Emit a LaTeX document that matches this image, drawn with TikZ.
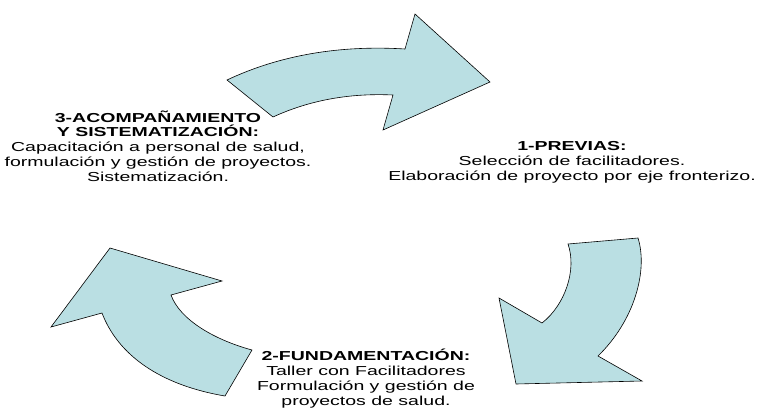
\documentclass[tikz,border=0pt]{standalone}
\usepackage{fontspec}
\setmainfont{Liberation Sans}[FakeStretch=1.5]
\usepackage{tikz}
\usetikzlibrary{positioning}

\definecolor{cyclefill}{RGB}{186,223,227}

\begin{document}
\begin{tikzpicture}[x=1pt, y=-1pt,
    cyclearrow/.style={draw=black, fill=cyclefill, line width=0.6pt, line join=miter},
    every node/.style={align=center, anchor=base, inner sep=0pt,
        font=\fontsize{13}{14.7}\selectfont}]
        \useasboundingbox (0,0) rectangle (759,414);

        % arrow 3 -> 1
        \draw[cyclearrow] (273,117) -- (227,80)
            .. controls (280,55) and (340,45) .. (405,49)
            -- (415,14) -- (490,82) -- (383,130) -- (393,95)
            .. controls (350,93) and (310,100) .. (273,117) -- cycle;

        % arrow 1 -> 2
        \draw[cyclearrow] (568,244) -- (638,238)
            .. controls (648,270) and (635,320) .. (598,356)
            -- (642,381) -- (516,384) -- (499,298) -- (542,323)
            .. controls (565,305) and (577,270) .. (568,244) -- cycle;

        % arrow 2 -> 3
        \draw[cyclearrow] (225,396) -- (252,350)
            .. controls (215,340) and (180,320) .. (171,295)
            -- (222,281) -- (110,248) -- (51,327) -- (102,313)
            .. controls (118,355) and (160,385) .. (225,396) -- cycle;

        % stages (base = last line)
        \node (previas) at (572,180)
            {\textbf{1-PREVIAS:}\\Selección de facilitadores.\\Elaboración de proyecto por eje fronterizo.};
        \node (fundamentacion) at (366,405)
            {\textbf{2-FUNDAMENTACIÓN:}\\Taller con Facilitadores\\Formulación y gestión de\\proyectos de salud.};
        \node (acompanamiento) at (158,181)
            {\textbf{3-ACOMPAÑAMIENTO}\\\textbf{Y SISTEMATIZACIÓN:}\\Capacitación a personal de salud,\\formulación y gestión de proyectos.\\Sistematización.};

    \end{tikzpicture}
\end{document}
